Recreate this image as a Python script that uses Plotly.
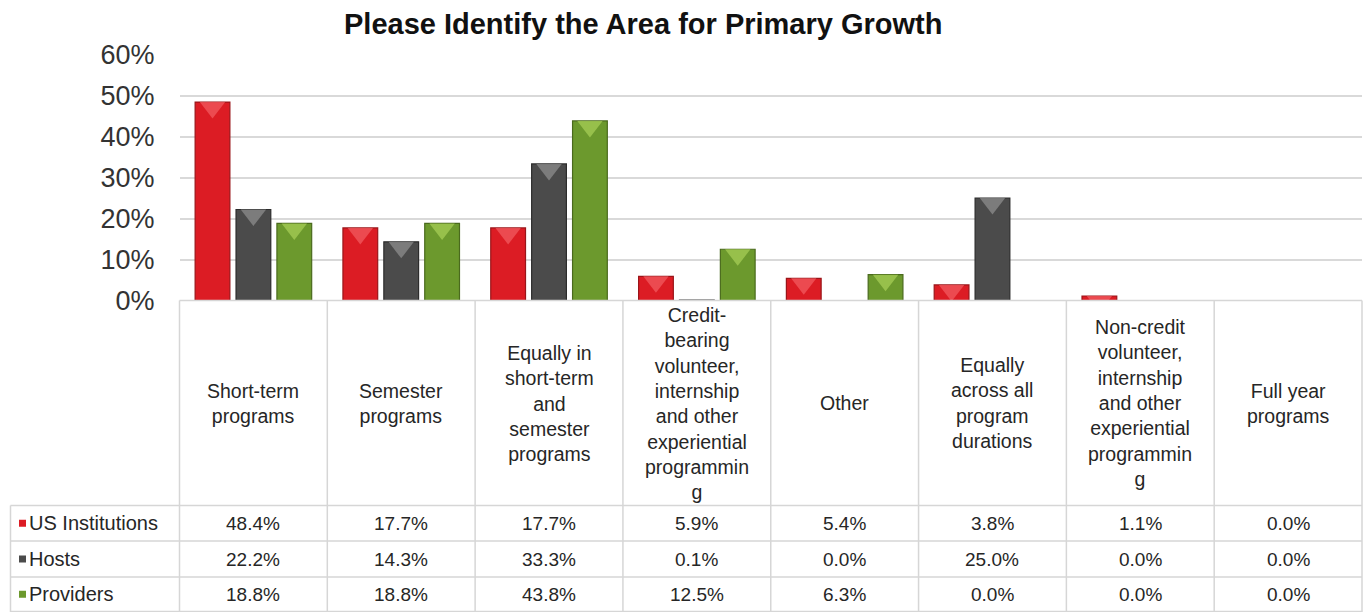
import plotly.graph_objects as go

# ---- data -------------------------------------------------------------
categories = [
    "Short-term<br>programs",
    "Semester<br>programs",
    "Equally in<br>short-term<br>and<br>semester<br>programs",
    "Credit-<br>bearing<br>volunteer,<br>internship<br>and other<br>experiential<br>programmin<br>g",
    "Other",
    "Equally<br>across all<br>program<br>durations",
    "Non-credit<br>volunteer,<br>internship<br>and other<br>experiential<br>programmin<br>g",
    "Full year<br>programs",
]
series_names = ["US Institutions", "Hosts", "Providers"]
us_institutions = [48.4, 17.7, 17.7, 5.9, 5.4, 3.8, 1.1, 0.0]
hosts = [22.2, 14.3, 33.3, 0.1, 0.0, 25.0, 0.0, 0.0]
providers = [18.8, 18.8, 43.8, 12.5, 6.3, 0.0, 0.0, 0.0]
y_ticks = [0, 10, 20, 30, 40, 50, 60]
title = "Please Identify the Area for Primary Growth"

# ---- styling ----------------------------------------------------------
W, H = 1365, 612
FONT = "Liberation Sans, Arial, sans-serif"
fills = ["#DC1C24", "#4B4B4B", "#6C992D"]
edges = ["#9A1519", "#2C2C2C", "#4A6A1D"]
shines = ["#F25A5F", "#8C8C8C", "#A6CD55"]
GRID = "#D9D9D9"
BORDER = "#D6D6D6"

# plot-area geometry (pixels)
PL, PR, PT, PB = 179.5, 1362.0, 54.5, 300.5
TABLE_LEFT = 10.5
HEADER_BOTTOM = 505.5
ROW_LINES = [505.5, 541.0, 577.0, 611.5]
Y_MAX = 60.0


def px(x):
    return x / W


def py(y):
    return 1 - y / H


series = [us_institutions, hosts, providers]
xs = list(range(len(categories)))
BARGAP = 0.17

fig = go.Figure()

for name, vals, fc, ec in zip(series_names, series, fills, edges):
    fig.add_trace(go.Bar(
        x=xs, y=vals, name=name, offsetgroup=name,
        marker=dict(color=fc, line=dict(color=ec, width=1.2)),
        hoverinfo="y+name",
    ))

# light bevel chevron at the top of each bar
tri_size = 22
tri_shift = (tri_size / 2) / 2 * Y_MAX / (PB - PT)
for name, vals, sc in zip(series_names, series, shines):
    fig.add_trace(go.Scatter(
        x=xs, y=[v - tri_shift if v > 0 else None for v in vals],
        mode="markers", offsetgroup=name, showlegend=False, hoverinfo="skip",
        marker=dict(symbol="triangle-down", size=tri_size, color=sc,
                    opacity=0.75, line=dict(width=0)),
    ))

shapes = []
annotations = []

# title
annotations.append(dict(
    x=px(643), y=py(24), xref="paper", yref="paper", showarrow=False,
    text=f"<b>{title}</b>", font=dict(family=FONT, size=29, color="#111111"),
    xanchor="center", yanchor="middle",
))

# data table: grid lines
col_w = (PR - PL) / len(categories)
col_edges = [PL + k * col_w for k in range(len(categories) + 1)]
line = dict(color=BORDER, width=1.5)
for xe in col_edges:
    shapes.append(dict(type="line", xref="paper", yref="paper",
                       x0=px(xe), x1=px(xe), y0=py(PB), y1=py(H), line=line))
shapes.append(dict(type="line", xref="paper", yref="paper",
                   x0=px(PL), x1=px(PR), y0=py(PB), y1=py(PB), line=line))
for yl in ROW_LINES:
    shapes.append(dict(type="line", xref="paper", yref="paper",
                       x0=px(TABLE_LEFT), x1=px(PR), y0=py(yl), y1=py(yl), line=line))
shapes.append(dict(type="line", xref="paper", yref="paper",
                   x0=px(TABLE_LEFT), x1=px(TABLE_LEFT), y0=py(HEADER_BOTTOM), y1=py(H),
                   line=line))

# category headers
for k, cat in enumerate(categories):
    cx = (col_edges[k] + col_edges[k + 1]) / 2
    annotations.append(dict(
        x=px(cx), y=py((PB + HEADER_BOTTOM) / 2), xref="paper", yref="paper",
        showarrow=False, text=cat, align="center",
        font=dict(family=FONT, size=19.5, color="#262626"),
        xanchor="center", yanchor="middle",
    ))

# series rows: legend key, name and values
for r, (name, vals, fc) in enumerate(zip(series_names, series, fills)):
    ry = (ROW_LINES[r] + ROW_LINES[r + 1]) / 2
    shapes.append(dict(type="rect", xref="paper", yref="paper",
                       x0=px(19), x1=px(26), y0=py(ry - 3.5), y1=py(ry + 3.5),
                       fillcolor=fc, line=dict(width=0)))
    annotations.append(dict(
        x=px(27), y=py(ry), xref="paper", yref="paper", showarrow=False,
        text=name, font=dict(family=FONT, size=20, color="#262626"),
        xanchor="left", yanchor="middle",
    ))
    for k, v in enumerate(vals):
        cx = (col_edges[k] + col_edges[k + 1]) / 2
        annotations.append(dict(
            x=px(cx), y=py(ry), xref="paper", yref="paper", showarrow=False,
            text=f"{v:.1f}%", font=dict(family=FONT, size=19, color="#262626"),
            xanchor="center", yanchor="middle",
        ))

fig.update_layout(
    width=W, height=H,
    margin=dict(l=0, r=0, t=0, b=0, pad=0, autoexpand=False),
    paper_bgcolor="white", plot_bgcolor="white",
    barmode="group", bargap=BARGAP, bargroupgap=0.15,
    scattermode="group", scattergap=BARGAP,
    showlegend=False,
    shapes=shapes, annotations=annotations,
    xaxis=dict(domain=[px(PL), px(PR)], range=[-0.5, len(categories) - 0.5],
               showticklabels=False, showgrid=False, zeroline=False,
               showline=False, ticks="", automargin=False),
    yaxis=dict(domain=[py(PB), py(PT)], range=[0, Y_MAX], tickmode="array",
               tickvals=y_ticks, ticktext=[f"{t}%" for t in y_ticks],
               showgrid=True, gridcolor=GRID, gridwidth=1.5,
               zeroline=False, showline=False, ticks="", ticklabelstandoff=24,
               automargin=False,
               tickfont=dict(family=FONT, size=27, color="#333333")),
)

fig.write_html("out.html")
